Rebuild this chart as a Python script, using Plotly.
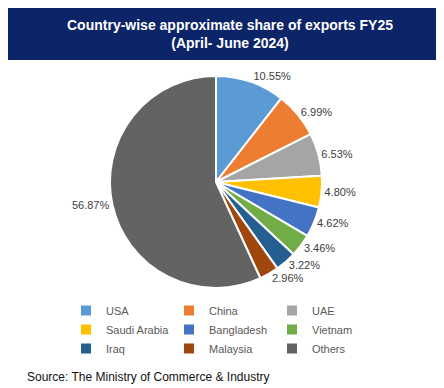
import plotly.graph_objects as go

countries = ["USA", "China", "UAE", "Saudi Arabia", "Bangladesh", "Vietnam", "Iraq", "Malaysia", "Others"]
shares = [10.55, 6.99, 6.53, 4.80, 4.62, 3.46, 3.22, 2.96, 56.87]
colors = ["#5B9BD5", "#ED7D31", "#A5A5A5", "#FFC000", "#4472C4", "#70AD47", "#255E91", "#9E480E", "#636363"]

W, H = 444, 388
ML, MR = 40, 40
PW = W - ML - MR
cx, cy, r = 208, 174, 106

fig = go.Figure(go.Pie(
    labels=countries,
    values=shares,
    sort=False,
    direction="clockwise",
    rotation=0,
    marker=dict(colors=colors, line=dict(color="white", width=2)),
    texttemplate="%{value:.2f}%",
    textposition="outside",
    textfont=dict(family="Liberation Sans, Arial", size=11, color="#404040"),
    hoverinfo="label+value",
    domain=dict(x=[(cx - r - ML) / PW, (cx + r - ML) / PW], y=[(H - cy - r) / H, (H - cy + r) / H]),
))

fig.update_layout(
    width=W, height=H,
    margin=dict(l=ML, r=MR, t=0, b=0, autoexpand=False),
    paper_bgcolor="white",
    plot_bgcolor="white",
    showlegend=True,
    legend=dict(
        orientation="h",
        x=(58 - ML) / PW, y=1 - 288 / H, xanchor="left", yanchor="top",
        entrywidth=58, entrywidthmode="pixels",
        font=dict(family="Liberation Sans, Arial", size=11, color="#595959"),
        itemwidth=30, tracegroupgap=0,
    ),
    shapes=[dict(type="rect", xref="paper", yref="paper", x0=-ML / PW, x1=1 + MR / PW, y0=1 - 52 / H, y1=1,
                 fillcolor="#0C2468", line=dict(width=0), layer="below")],
    annotations=[
        dict(text="<b>Country-wise approximate share of exports FY25</b><br><b>(April- June 2024)</b>",
             x=(W / 2 - ML) / PW, y=1 - 26 / H, xref="paper", yref="paper", xanchor="center", yanchor="middle",
             showarrow=False, font=dict(family="Liberation Sans, Arial", size=14, color="white")),
        dict(text="Source: The Ministry of Commerce & Industry",
             x=(17 - ML) / PW, y=1 - 369 / H, xref="paper", yref="paper", xanchor="left", yanchor="middle",
             showarrow=False, font=dict(family="Liberation Sans, Arial", size=12, color="#111111")),
    ],
)

fig.write_html("out.html")
